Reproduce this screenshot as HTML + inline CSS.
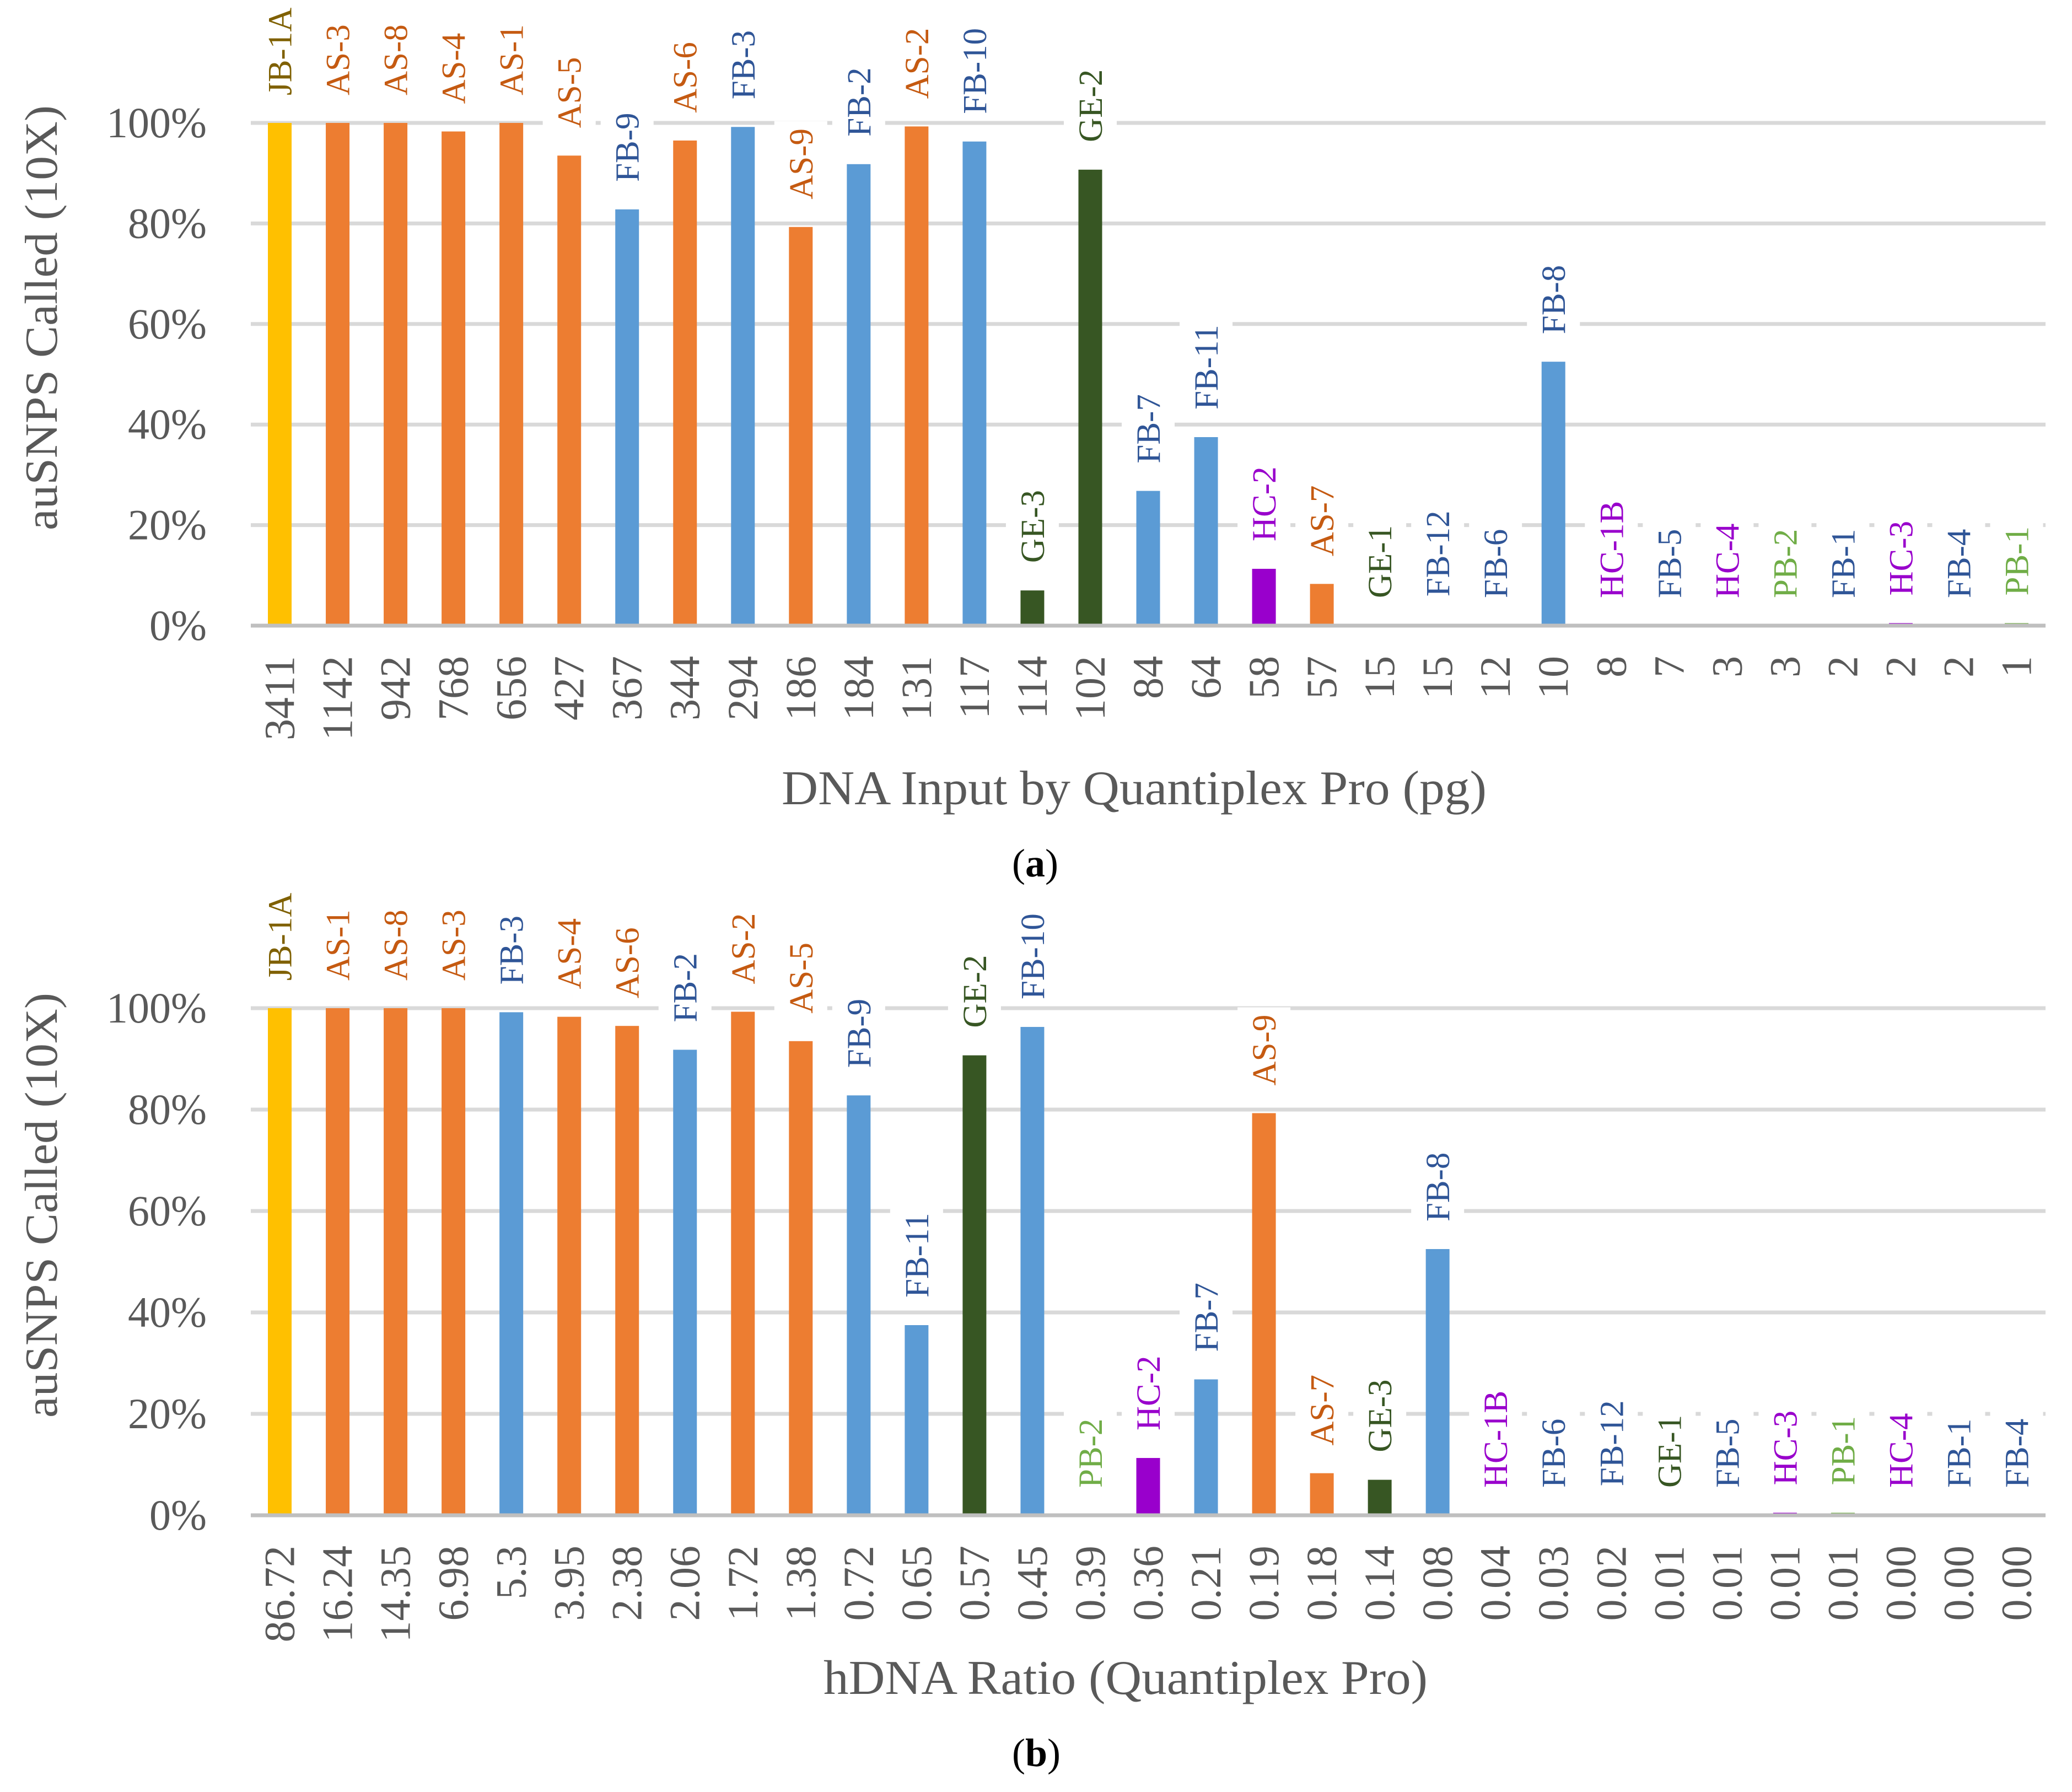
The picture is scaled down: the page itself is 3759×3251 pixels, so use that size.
<!DOCTYPE html>
<html><head><meta charset="utf-8"><style>
html,body{margin:0;padding:0;background:#fff;}
svg{display:block;}
text{font-family:"Liberation Serif",serif;}
</style></head><body>
<svg id="fig" width="3759" height="3251" viewBox="0 0 3759 3251" xmlns="http://www.w3.org/2000/svg"></svg>
<script>
// Chart (a) data
const catsA = ["3411","1142","942","768","656","427","367","344","294","186","184","131","117","114","102","84","64","58","57","15","15","12","10","8","7","3","3","2","2","2","1"];
const samplesA = ["JB-1A","AS-3","AS-8","AS-4","AS-1","AS-5","FB-9","AS-6","FB-3","AS-9","FB-2","AS-2","FB-10","GE-3","GE-2","FB-7","FB-11","HC-2","AS-7","GE-1","FB-12","FB-6","FB-8","HC-1B","FB-5","HC-4","PB-2","FB-1","HC-3","FB-4","PB-1"];
const valuesA = [100,100,100,98.3,100,93.5,82.8,96.5,99.2,79.3,91.8,99.3,96.3,7,90.7,26.8,37.5,11.3,8.3,0,0.3,0,52.5,0,0,0,0,0,0.5,0,0.5];
// Chart (b) data
const catsB = ["86.72","16.24","14.35","6.98","5.3","3.95","2.38","2.06","1.72","1.38","0.72","0.65","0.57","0.45","0.39","0.36","0.21","0.19","0.18","0.14","0.08","0.04","0.03","0.02","0.01","0.01","0.01","0.01","0.00","0.00","0.00"];
const samplesB = ["JB-1A","AS-1","AS-8","AS-3","FB-3","AS-4","AS-6","FB-2","AS-2","AS-5","FB-9","FB-11","GE-2","FB-10","PB-2","HC-2","FB-7","AS-9","AS-7","GE-3","FB-8","HC-1B","FB-6","FB-12","GE-1","FB-5","HC-3","PB-1","HC-4","FB-1","FB-4"];
const valuesB = [100,100,100,100,99.2,98.3,96.5,91.8,99.3,93.5,82.8,37.5,90.7,96.3,0,11.3,26.8,79.3,8.3,7,52.5,0,0,0.3,0,0,0.5,0.5,0,0,0];
const yTicks = [0,20,40,60,80,100];

const barColor = {JB:"#FFC000",AS:"#ED7D31",FB:"#5B9BD5",GE:"#375623",HC:"#9900CC",PB:"#70AD47"};
const textColor = {JB:"#7F6000",AS:"#C55A11",FB:"#2F5597",GE:"#375623",HC:"#9900CC",PB:"#70AD47"};

const NS="http://www.w3.org/2000/svg";
const svg=document.getElementById('fig');
function mk(tag,attrs,parent){const e=document.createElementNS(NS,tag);for(const k in attrs)e.setAttribute(k,attrs[k]);(parent||svg).appendChild(e);return e;}

function drawChart(cfg){
  const g=mk('g',{});
  
  
  const left=455,right=3711,n=cfg.cats.length,band=(right-left)/n,bw=43;
  const y=v=>cfg.y0-(v/100)*(cfg.y0-cfg.y100);
  const xc=i=>left+band*(i+0.5);
  // gridlines
  yTicks.forEach(t=>{
    if(t===0)return;
    const l=mk('line',{x1:left,x2:right,y1:y(t),y2:y(t),stroke:"#D9D9D9","stroke-width":7},g);
    
    
  });
  // y tick labels
  yTicks.forEach(t=>{
    const tx=mk('text',{x:375,y:y(t)+26,"text-anchor":"end","font-size":78,fill:"#595959"},g);
    tx.textContent=t+"%";
    
    
  });
  // label backgrounds
  cfg.samples.forEach((s,i)=>{
    const top=y(cfg.vals[i]);
    const r=mk('rect',{x:xc(i)-48,y:top-50-cfg.samples[i].length*32-14,width:96,height:cfg.samples[i].length*32+24,fill:"#fff"},g);
    
    
  });
  // bars
  cfg.vals.forEach((v,i)=>{
    const p=cfg.samples[i].slice(0,2);
    const h=cfg.y0-y(v);
    const b=mk('rect',{x:xc(i)-bw/2,y:y(v),width:bw,height:Math.max(h,0),fill:barColor[p]},g);
    
    
  });
  // baseline
  const bl=mk('line',{x1:left,x2:right,y1:cfg.y0,y2:cfg.y0,stroke:"#BFBFBF","stroke-width":7},g);
  
  
  // data labels
  cfg.samples.forEach((s,i)=>{
    const p=s.slice(0,2);
    const bx=xc(i)+21,by=y(cfg.vals[i])-50;
    const t=mk('text',{x:bx,y:by,transform:`rotate(-90 ${bx} ${by})`,"font-size":61,fill:textColor[p]},g);
    t.textContent=s;
    
    
  });
  // x tick labels
  cfg.cats.forEach((c,i)=>{
    const bx=xc(i)+26,by=cfg.y0+55;
    const t=mk('text',{x:bx,y:by,transform:`rotate(-90 ${bx} ${by})`,"text-anchor":"end","font-size":78,fill:"#595959"},g);
    t.textContent=c;
    
    
  });
  // y axis title
  const yx=103,yy=cfg.ytitleStart;
  const yt=mk('text',{x:yx,y:yy,transform:`rotate(-90 ${yx} ${yy})`,"font-size":84,fill:"#595959",textLength:771,lengthAdjust:"spacingAndGlyphs"},g);
  yt.textContent="auSNPS Called (10X)";
  
  
  // x axis title
  const xt=mk('text',{x:cfg.xtX,y:cfg.y0+324,"font-size":88,fill:"#595959",textLength:cfg.xtLen,lengthAdjust:"spacingAndGlyphs"},g);
  xt.textContent=cfg.xtitle;
  
  
  // caption
  const cap=mk('text',{x:1836,y:cfg.y0+455,"font-size":72,fill:"#000"},g);
  cap.innerHTML='(<tspan font-weight="bold">'+cfg.cap+'</tspan>)';
  
  
}

drawChart({name:'chart-a',cats:catsA,samples:samplesA,vals:valuesA,y0:1135,y100:223,ytitleStart:962,xtitle:"DNA Input by Quantiplex Pro (pg)",xtX:1418,xtLen:1279,cap:"a"});
drawChart({name:'chart-b',cats:catsB,samples:samplesB,vals:valuesB,y0:2749,y100:1829,ytitleStart:2572,xtitle:"hDNA Ratio (Quantiplex Pro)",xtX:1494,xtLen:1096,cap:"b"});
</script>
</body></html>
